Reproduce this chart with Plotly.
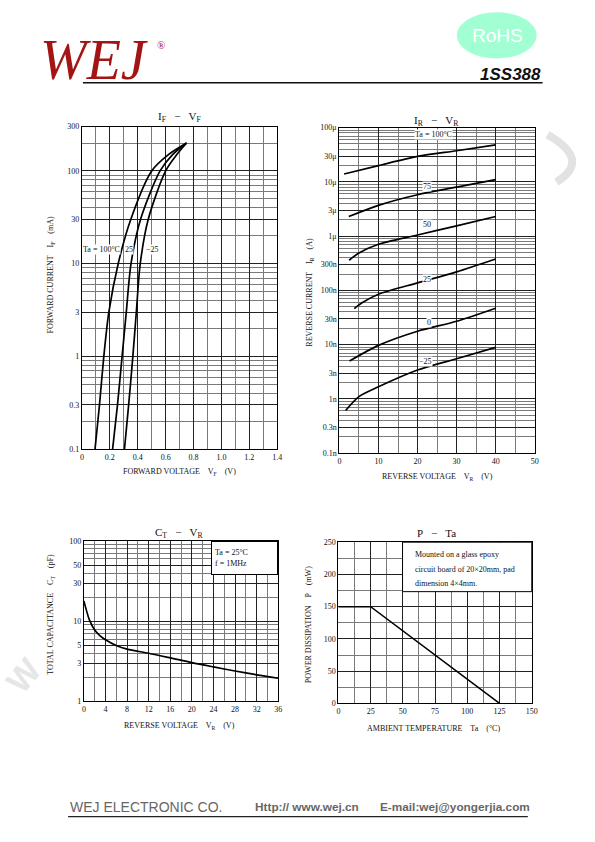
import math
import plotly.graph_objects as go

W, H = 595, 842
SERIF = "Liberation Serif"
SANS = "Liberation Sans"


def px(x):
    return x / W


def py(y):
    return 1 - y / H


# ---------------- data ----------------
# IF - VF
if_ma = [0.1, 0.3, 1, 3, 10, 30, 100, 150, 200]
vf_100 = [0.094, 0.126, 0.157, 0.193, 0.26, 0.35, 0.50, 0.62, 0.75]
vf_25 = [0.22, 0.255, 0.288, 0.318, 0.352, 0.42, 0.56, 0.65, 0.75]
vf_m25 = [0.305, 0.335, 0.365, 0.39, 0.418, 0.475, 0.60, 0.68, 0.75]
if_labels = ["Ta = 100°C", "25", "−25"]
if_label_x = [0.141, 0.336, 0.509]
if_label_y = [14.3, 14.3, 14.3]

# IR - VR
vr_100 = [1.2, 10, 20, 30, 40]
ir_100 = [1.4e-5, 2.0e-5, 2.95e-5, 3.75e-5, 4.8e-5]
vr_75 = [2.4, 10, 20, 30, 40]
ir_75 = [2.3e-6, 3.7e-6, 5.8e-6, 8.0e-6, 1.1e-5]
vr_50 = [2.5, 5, 10, 20, 30, 40]
ir_50 = [3.6e-7, 4.9e-7, 7.1e-7, 1.05e-6, 1.55e-6, 2.3e-6]
vr_25 = [3.8, 5.8, 10, 20, 30, 40]
ir_25 = [4.6e-8, 5.9e-8, 8.5e-8, 1.38e-7, 2.2e-7, 3.8e-7]
vr_0 = [2.6, 10, 20, 30, 40]
ir_0 = [5.0e-9, 9.7e-9, 1.77e-8, 2.7e-8, 4.7e-8]
vr_m25 = [1.6, 5, 10, 20, 30, 40]
ir_m25 = [6.1e-10, 1.1e-9, 1.67e-9, 3.4e-9, 5.5e-9, 8.9e-9]
ir_labels = ["Ta = 100°C", "75", "50", "25", "0", "−25"]
ir_label_x = [24.2, 22.5, 22.5, 22.5, 23.0, 22.0]
ir_label_y = [7.4e-5, 8.3e-6, 1.65e-6, 1.6e-7, 2.6e-8, 4.8e-9]
ir_tickvals = [1e-4, 3e-5, 1e-5, 3e-6, 1e-6, 3e-7, 1e-7, 3e-8, 1e-8, 3e-9, 1e-9, 3e-10, 1e-10]
ir_ticktext = ["100μ", "30μ", "10μ", "3μ", "1μ", "300n", "100n",
               "30n", "10n", "3n", "1n", "0.3n", "0.1n"]

# CT - VR
vr_ct = [0, 0.5, 1, 2, 3, 4, 6, 8, 12, 16, 20, 24, 28, 32, 36]
ct_pf = [18, 13.5, 10.5, 7.8, 6.6, 5.9, 5.0, 4.5, 4.0, 3.5, 3.05, 2.7, 2.4, 2.15, 1.95]

# P - Ta
ta_c = [0, 25, 125]
p_mw = [150, 150, 0]


def decade_minor(lo_exp, hi_val):
    vals = []
    e = lo_exp
    while True:
        for m in range(1, 10):
            v = m * 10 ** e
            if v > hi_val * 1.0001:
                return vals
            vals.append(v)
        e += 1


def steps(a, b, s):
    n = int(round((b - a) / s))
    return [round(a + i * s, 6) for i in range(n + 1)]


fig = go.Figure()
LINE = dict(color="black", width=1.7, shape="spline", smoothing=0.8)

for vf in (vf_100, vf_25, vf_m25):
    fig.add_trace(go.Scatter(x=vf, y=if_ma, mode="lines", line=LINE, xaxis="x", yaxis="y",
                             hoverinfo="skip"))
for vr, ir in ((vr_100, ir_100), (vr_75, ir_75), (vr_50, ir_50), (vr_25, ir_25), (vr_0, ir_0),
               (vr_m25, ir_m25)):
    fig.add_trace(go.Scatter(x=vr, y=ir, mode="lines", line=LINE, xaxis="x2", yaxis="y2",
                             hoverinfo="skip"))
fig.add_trace(go.Scatter(x=vr_ct, y=ct_pf, mode="lines", line=LINE, xaxis="x3", yaxis="y3",
                         hoverinfo="skip"))
fig.add_trace(go.Scatter(x=ta_c, y=p_mw, mode="lines", line=dict(color="black", width=1.5),
                         xaxis="x4", yaxis="y4", hoverinfo="skip"))

TICKFONT = dict(family=SERIF, size=8, color="#111")


def ax(**kw):
    d = dict(showline=True, mirror=True, linecolor="black", linewidth=1.3, ticks="",
             showgrid=True, gridcolor="#222", gridwidth=0.9, zeroline=False,
             tickfont=TICKFONT, fixedrange=True)
    mv = kw.pop("minorvals", None)
    if mv is not None:
        d["minor"] = dict(tickvals=mv, showgrid=True, gridcolor="#7a7a7a", gridwidth=0.6, ticks="")
    d.update(kw)
    return d


x1v = steps(0, 1.4, 0.2)
y1v = [0.1, 0.3, 1, 3, 10, 30, 100, 300]
x3v = steps(0, 36, 4)
y3v = [1, 3, 5, 10, 30, 50, 100]

fig.update_layout(
    width=W, height=H, margin=dict(l=0, r=0, t=0, b=0),
    paper_bgcolor="white", plot_bgcolor="white", showlegend=False,
    xaxis=ax(domain=[px(81), px(279)], range=[0, 1.4], anchor="y",
             tickvals=x1v, ticktext=[("0" if v == 0 else "%.1f" % v) for v in x1v],
             minorvals=steps(0, 1.4, 0.1)),
    yaxis=ax(domain=[py(450), py(124)], type="log", range=[-1, math.log10(300)], anchor="x",
             tickvals=y1v, ticktext=["%g" % v for v in y1v], minorvals=decade_minor(-1, 300)),
    xaxis2=ax(domain=[px(342), px(540)], range=[0, 50], anchor="y2",
              tickvals=steps(0, 50, 10), ticktext=[str(int(v)) for v in steps(0, 50, 10)],
              minorvals=steps(0, 50, 5)),
    yaxis2=ax(domain=[py(454), py(125)], type="log", range=[-10, -4], anchor="x2",
              tickvals=ir_tickvals, ticktext=ir_ticktext, minorvals=decade_minor(-10, 1e-4)),
    xaxis3=ax(domain=[px(83), px(280)], range=[0, 36], anchor="y3",
              tickvals=x3v, ticktext=[str(int(v)) for v in x3v], minorvals=steps(0, 36, 2)),
    yaxis3=ax(domain=[py(705), py(543)], type="log", range=[0, 2], anchor="x3",
              tickvals=y3v, ticktext=[str(v) for v in y3v], minorvals=decade_minor(0, 100)),
    xaxis4=ax(domain=[px(341), px(537)], range=[0, 150], anchor="y4",
              tickvals=steps(0, 150, 25), ticktext=[str(int(v)) for v in steps(0, 150, 25)],
              minorvals=steps(0, 150, 12.5)),
    yaxis4=ax(domain=[py(707), py(544)], range=[0, 250], anchor="x4",
              tickvals=steps(0, 250, 50), ticktext=[str(int(v)) for v in steps(0, 250, 50)],
              minorvals=steps(0, 250, 25)),
)

ann = []


def ptext(x, y, text, size=8, family=SERIF, color="#111", angle=0, xanchor="center",
          yanchor="middle", weight="normal", style="normal", **kw):
    d = dict(x=px(x), y=py(y), xref="paper", yref="paper", text=text, showarrow=False,
             font=dict(family=family, size=size, color=color, weight=weight, style=style),
             textangle=angle, xanchor=xanchor, yanchor=yanchor)
    d.update(kw)
    ann.append(d)


# chart titles
ptext(180, 114, "I<sub>F</sub>   −   V<sub>F</sub>", size=11)
ptext(440, 118, "I<sub>R</sub>   −   V<sub>R</sub>", size=11)
ptext(180, 535, "C<sub>T</sub>   −   V<sub>R</sub>", size=11)
ptext(440, 535, "P   −   Ta", size=11)

# axis titles
ptext(180, 473, "FORWARD VOLTAGE    V<sub>F</sub>    (V)")
ptext(50, 274, "FORWARD CURRENT    I<sub>F</sub>    (mA)", angle=-90)
ptext(441, 478, "REVERSE VOLTAGE    V<sub>R</sub>    (V)")
ptext(312, 291, "REVERSE CURRENT    I<sub>R</sub>    (A)", angle=-90)
ptext(180, 730, "REVERSE VOLTAGE    V<sub>R</sub>    (V)")
ptext(50, 617, "TOTAL CAPACITANCE    C<sub>T</sub>    (pF)", angle=-90)
ptext(437, 732, "AMBIENT TEMPERATURE    Ta    (°C)")
ptext(310, 627, "POWER DISSIPATION    P    (mW)", angle=-90)

# curve labels
for t, x, y in zip(if_labels, if_label_x, if_label_y):
    ann.append(dict(x=x, y=math.log10(y), xref="x", yref="y", text=t, showarrow=False,
                    font=dict(family=SERIF, size=8, color="#111"), bgcolor="white", borderpad=0))
for t, x, y in zip(ir_labels, ir_label_x, ir_label_y):
    ann.append(dict(x=x, y=math.log10(y), xref="x2", yref="y2", text=t, showarrow=False,
                    font=dict(family=SERIF, size=8, color="#111"), bgcolor="white", borderpad=0))

# text boxes
ann.append(dict(x=px(280), y=py(543), xref="paper", yref="paper", xanchor="right", yanchor="top",
                text="Ta = 25°C<br>f = 1MHz", showarrow=False,
                align="left", width=59, height=26, borderpad=3, bgcolor="white",
                bordercolor="black", borderwidth=1,
                font=dict(family=SERIF, size=8, color="#111")))
for yy, t in ((556, "Mounted on a glass epoxy"),
              (571.5, "circuit board of 20×20mm, pad"),
              (586, "dimension 4×4mm.")):
    ptext(417, yy, t, size=8, xanchor="left")

# header
ptext(94, 57, "WEJ", size=56, color="#a51414", style="italic")
ptext(161, 41, "®", size=11, color="#a51414")
ptext(502, 32, "RoHS", size=19, family=SANS, color="white")
ptext(548, 71, "1SS388", size=17, family=SANS, color="#111", xanchor="right",
      weight="bold", style="italic")

# footer
ptext(67, 812, "WEJ ELECTRONIC CO.", size=14, family=SANS, color="#666", xanchor="left")
ptext(254, 812, "Http:// www.wej.cn", size=11.8, family=SANS, color="#666", xanchor="left",
      weight="bold")
ptext(381, 812, "E-mail:wej@yongerjia.com", size=11.8, family=SANS, color="#666",
      xanchor="left", weight="bold")

# watermark fragment
ptext(22, 678, "W", size=34, family=SANS, color="#e6e6e6", angle=-50, weight="bold")

fig.update_layout(annotations=ann)

shapes = [
    dict(type="circle", xref="paper", yref="paper", x0=px(461), x1=px(542), y0=py(55),
         y1=py(8.3), fillcolor="#a2ffd4", line=dict(width=0), layer="below"),
    dict(type="line", xref="paper", yref="paper", x0=px(82), x1=px(548), y0=py(79.5),
         y1=py(79.5), line=dict(color="#111", width=1.5)),
    dict(type="line", xref="paper", yref="paper", x0=px(67), x1=px(533), y0=py(821.5),
         y1=py(821.5), line=dict(color="#222", width=1.3)),
    dict(type="rect", xref="paper", yref="paper", x0=px(406), x1=px(537), y0=py(594),
         y1=py(544), fillcolor="white", line=dict(color="black", width=1), layer="above"),
    dict(type="path", xref="paper", yref="paper",
         path="M %f,%f Q %f,%f %f,%f" % (px(553), py(132), px(598), py(158), px(562), py(180)),
         line=dict(color="#e2e2e2", width=8), layer="below"),
]
fig.update_layout(shapes=shapes)

fig.write_html("out.html", config={"displayModeBar": False},
               post_script="document.body.style.margin='0';")
